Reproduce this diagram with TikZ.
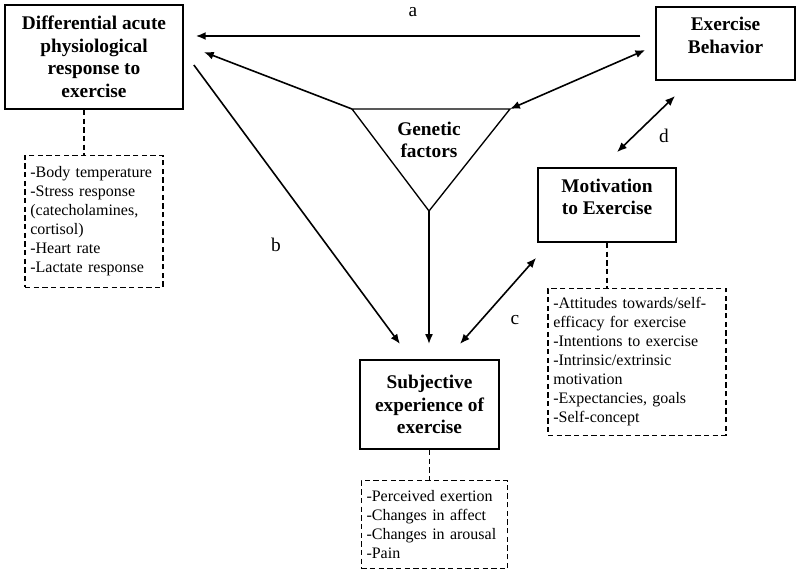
\documentclass[tikz,border=0pt]{standalone}
\usepackage{fontspec}
\setmainfont{Liberation Serif}
\usetikzlibrary{arrows.meta,calc,positioning}

\begin{document}
\begin{tikzpicture}[
		x=0.75pt, y=-0.75pt,
		node distance=33.75pt,
		line width=1.2pt,
		mainnode/.style={rectangle, draw=black, line width=1.3pt, align=center, font=\bfseries\fontsize{14.5}{16.9}\selectfont},
		listnode/.style={rectangle, draw=black, line width=0.9pt, dash pattern=on 4pt off 2.5pt, align=left, inner xsep=4pt, font=\fontsize{12}{14.25}\selectfont},
		link/.style={line width=0.9pt, dash pattern=on 4pt off 2.5pt},
		lbl/.style={font=\fontsize{14.5}{17}\selectfont, inner sep=0pt},
		arr/.style={-{Latex[length=2.6mm,width=2.1mm]}},
		darr/.style={{Latex[length=2.6mm,width=2.1mm]}-{Latex[length=2.6mm,width=2.1mm]}}
	]
		\useasboundingbox (0,0) rectangle (800,573);
		\node[mainnode, minimum width=133.5pt, minimum height=78pt](diff) at (94,57){Differential acute\\physiological\\response to\\exercise};
		\node[mainnode, minimum width=104pt, minimum height=55pt, text depth=12pt](beh) at (725.5,43.5){Exercise\\Behavior};
		\node[mainnode, minimum width=103.5pt, minimum height=55.5pt, text depth=12pt](mot) at (607,205){Motivation\\to Exercise};
		\node[mainnode, minimum width=104pt, minimum height=67pt](subj) at (429.5,404.5){Subjective\\experience of\\exercise};
		
		% genetic factors
		\coordinate (gen-l) at (352,109);
		\coordinate (gen-r) at (510,109);
		\coordinate (gen-b) at (429,211);
		\draw[line width=1pt] (gen-l) -- (gen-r) -- (gen-b) -- cycle;
		\node[align=center, font=\bfseries\fontsize{14.5}{16.9}\selectfont](gen) at (429,140){Genetic\\factors};
		
		\draw[arr]($(beh.west)+(-15,-7.5)$) -- ($(diff.east)+(12,-21)$);
		\draw[arr](gen-l) -- ($(diff.east)+(20,-5)$);
		\draw[darr](gen-r) -- ($(beh.west)+(-10,6.5)$);
		\draw[arr]($(diff.east)+(10,8)$) -- ($(subj.north)+(-29.5,-15)$);
		\draw[arr, shorten >=11.25pt](gen-b) -- (gen-b |- subj.north);
		\draw[darr]($(subj.north)+(30.5,-15)$) -- ($(mot.south west)+(-1,15)$);
		\draw[darr]($(mot.north)+(10,-15)$) -- ($(beh.south)+(-50.5,15)$);
		
		\node[lbl](lbl-a) at (413,12){a};
		\node[lbl](lbl-b) at (276,245){b};
		\node[lbl](lbl-c) at (515,320){c};
		\node[lbl](lbl-d) at (664,136){d};
		
		% lists
		\node[listnode, text width=95.5pt, minimum height=99pt](diff-list)[below =of diff]{-Body temperature\\-Stress response\\(catecholamines,\\cortisol)\\-Heart rate\\-Lactate response};
		\node[listnode, text width=125.5pt, minimum height=110pt](mot-list)[below =of mot, xshift=22.5pt]{-Attitudes towards/self-\\efficacy for exercise\\-Intentions to exercise\\-Intrinsic/extrinsic\\motivation\\-Expectancies, goals\\-Self-concept};
		\node[listnode, text width=102pt, minimum height=66pt](subj-list)[below =of subj, yshift=11.25pt, xshift=3.75pt]{-Perceived exertion\\-Changes in affect\\-Changes in arousal\\-Pain};
		
		\draw[link]($(diff.south)+(-10,0)$) coordinate (diff-link) -- (diff-link |- diff-list.north);
		\draw[link](mot.south) -- (mot.south |- mot-list.north);
		\draw[link](subj.south) -- (subj.south |- subj-list.north);
	\end{tikzpicture}
\end{document}
